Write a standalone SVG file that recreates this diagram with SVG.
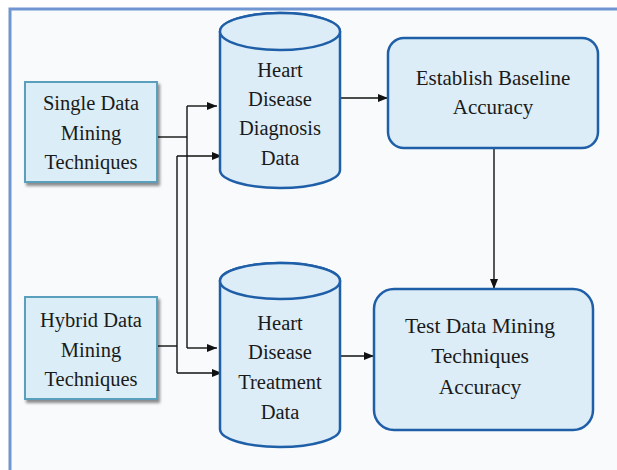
<svg xmlns="http://www.w3.org/2000/svg" width="617" height="470" viewBox="0 0 617 470">
  <style>
    .t { fill: #1a1a1a; text-anchor: middle; }
    .sq { fill: #dbeef7; stroke: #5aa0bd; stroke-width: 2; }
    .rr { fill: #dcedf8; stroke: #1f5fa8; stroke-width: 2.5; }
    .cy { fill: #dcedf8; stroke: #1f5fa8; stroke-width: 2.5; }
    .c { fill: none; stroke: #111; stroke-width: 1.4; }
    .ca { fill: none; stroke: #111; stroke-width: 1.4; marker-end: url(#ah); }
  </style>
  <defs>
    <marker id="ah" markerUnits="userSpaceOnUse" markerWidth="10" markerHeight="10" viewBox="0 0 10 10" refX="10" refY="5" orient="auto">
      <path d="M0,1 L10,5 L0,9 Z" fill="#111"/>
    </marker>
    <filter id="sh" x="-10%" y="-10%" width="130%" height="130%">
      <feGaussianBlur in="SourceAlpha" stdDeviation="1.5"/>
      <feOffset dx="2" dy="3" result="b"/>
      <feComponentTransfer><feFuncA type="linear" slope="0.45"/></feComponentTransfer>
      <feMerge><feMergeNode/><feMergeNode in="SourceGraphic"/></feMerge>
    </filter>
  </defs>

  <rect x="0" y="0" width="617" height="470" fill="#ffffff"/>
  <rect x="10" y="9" width="607" height="461" fill="#f8fafc"/>
  <path d="M10,470 V9 H617" fill="none" stroke="#6f96d1" stroke-width="3"/>

  <g id="connectors">
    <path class="c" d="M157,137 H187"/>
    <path class="c" d="M187,106 V348"/>
    <path class="ca" d="M187,106 H217"/>
    <path class="ca" d="M187,348 H217"/>
    <path class="c" d="M157,346 H177"/>
    <path class="c" d="M177,156 V373"/>
    <path class="ca" d="M177,156 H222"/>
    <path class="ca" d="M177,373 H222"/>
    <path class="ca" d="M340,98 H388"/>
    <path class="ca" d="M340,356 H374"/>
    <path class="ca" d="M494,148 V289"/>
  </g>

  <g id="single">
    <rect class="sq" x="25" y="82" width="132" height="100" filter="url(#sh)"/>
    <text class="t" font-family="Liberation Serif, serif" font-size="20.5"><tspan x="91" y="110">Single Data</tspan><tspan x="91" y="139.5">Mining</tspan><tspan x="91" y="169">Techniques</tspan></text>
  </g>

  <g id="hybrid">
    <rect class="sq" x="25" y="297" width="132" height="102" filter="url(#sh)"/>
    <text class="t" font-family="Liberation Serif, serif" font-size="20.5"><tspan x="91" y="327">Hybrid Data</tspan><tspan x="91" y="356.5">Mining</tspan><tspan x="91" y="386">Techniques</tspan></text>
  </g>

  <g id="diagnosis">
    <path class="cy" d="M220,31.5 V170 A60,18 0 0 0 340,170 V31.5 A60,18.5 0 0 0 220,31.5 Z"/>
    <ellipse class="cy" cx="280" cy="31.5" rx="60" ry="18.5"/>
    <text class="t" font-family="Liberation Serif, serif" font-size="20.5"><tspan x="280" y="77">Heart</tspan><tspan x="280" y="106">Disease</tspan><tspan x="280" y="135">Diagnosis</tspan><tspan x="280" y="165">Data</tspan></text>
  </g>

  <g id="treatment">
    <path class="cy" d="M220,281 V429 A60,18 0 0 0 340,429 V281 A60,18 0 0 0 220,281 Z"/>
    <ellipse class="cy" cx="280" cy="281" rx="60" ry="18"/>
    <text class="t" font-family="Liberation Serif, serif" font-size="20.5"><tspan x="280" y="330">Heart</tspan><tspan x="280" y="359">Disease</tspan><tspan x="280" y="389">Treatment</tspan><tspan x="280" y="419">Data</tspan></text>
  </g>

  <g id="baseline">
    <rect class="rr" x="388" y="38" width="210" height="110" rx="16"/>
    <text class="t" font-family="Liberation Serif, serif" font-size="21"><tspan x="493" y="85">Establish Baseline</tspan><tspan x="493" y="114">Accuracy</tspan></text>
  </g>

  <g id="test">
    <rect class="rr" x="374" y="289" width="219" height="141" rx="20"/>
    <text class="t" font-family="Liberation Serif, serif" font-size="21.5"><tspan x="480" y="332.5">Test Data Mining</tspan><tspan x="480" y="363">Techniques</tspan><tspan x="480" y="393.5">Accuracy</tspan></text>
  </g>
</svg>
